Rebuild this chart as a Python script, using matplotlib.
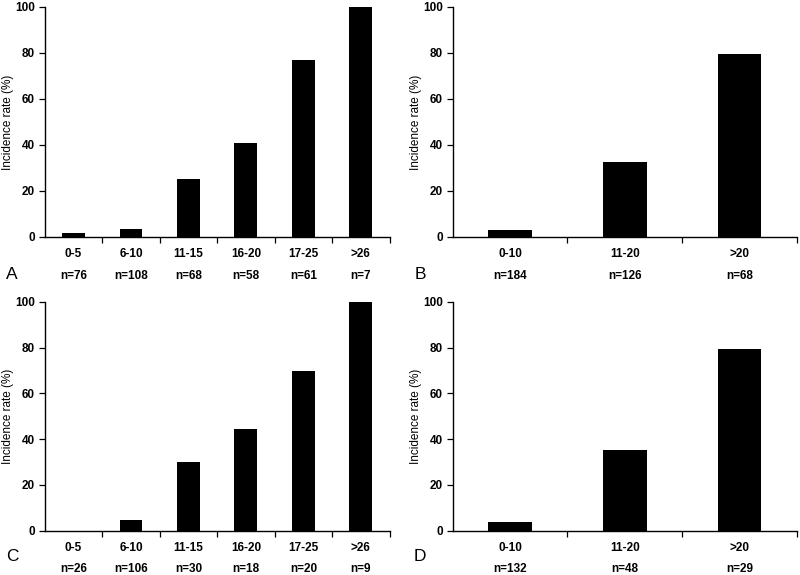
import matplotlib.pyplot as plt
import matplotlib.transforms as mtransforms

plt.rcParams['font.family'] = ['Liberation Sans', 'DejaVu Sans']

# Panel data
cats_a = ["0-5", "6-10", "11-15", "16-20", "17-25", ">26"]
rate_a = [1.5, 3.5, 25, 41, 77, 100]
n_a = ["n=76", "n=108", "n=68", "n=58", "n=61", "n=7"]

cats_b = ["0-10", "11-20", ">20"]
rate_b = [2.9, 32.6, 79.5]
n_b = ["n=184", "n=126", "n=68"]

cats_c = ["0-5", "6-10", "11-15", "16-20", "17-25", ">26"]
rate_c = [0, 4.7, 30, 44.5, 70, 100]
n_c = ["n=26", "n=106", "n=30", "n=18", "n=20", "n=9"]

cats_d = ["0-10", "11-20", ">20"]
rate_d = [3.6, 35.4, 79.3]
n_d = ["n=132", "n=48", "n=29"]

fig = plt.figure(figsize=(8, 5.75), dpi=100)

# axes rectangles in figure fractions (left, bottom, width, height)
rects = [
    (0.056, 0.588, 0.431, 0.400),
    (0.566, 0.588, 0.430, 0.400),
    (0.056, 0.077, 0.431, 0.398),
    (0.566, 0.077, 0.430, 0.398),
]
panels = [
    ("A", cats_a, rate_a, n_a, 0.40, -0.165),
    ("B", cats_b, rate_b, n_b, 0.38, -0.165),
    ("C", cats_c, rate_c, n_c, 0.40, -0.113),
    ("D", cats_d, rate_d, n_d, 0.38, -0.113),
]

for rect, (letter, cats, rates, ns, w, ly) in zip(rects, panels):
    ax = fig.add_axes(rect)
    x = list(range(len(cats)))
    ax.bar(x, rates, width=w, color="black", linewidth=0)
    ax.set_xlim(-0.5, len(cats) - 0.5)
    ax.set_ylim(0, 100)
    ax.set_yticks([0, 20, 40, 60, 80, 100])
    ax.set_xticks(x)
    ax.set_xticklabels(cats, fontsize=8.5, fontweight="bold")
    ax.set_xticks([i + 0.5 for i in range(len(cats))], minor=True)
    ax.tick_params(axis="x", which="major", length=0, pad=8)
    ax.tick_params(axis="x", which="minor", length=4, width=0.9, direction="out")
    ax.tick_params(axis="y", length=4, width=0.9, direction="out", pad=3, labelsize=8.5)
    for lab in ax.get_yticklabels():
        lab.set_fontweight("bold")
    for side in ("top", "right"):
        ax.spines[side].set_visible(False)
    for side in ("left", "bottom"):
        ax.spines[side].set_linewidth(1.0)
    ax.set_ylabel("Incidence rate (%)", fontsize=8.5)
    ax.yaxis.set_label_coords(-0.09, 0.5)

    trans = mtransforms.blended_transform_factory(ax.transData, ax.transAxes)
    for xi, lab in zip(x, ns):
        ax.text(xi, -0.168, lab, transform=trans, ha="center", va="center",
                fontsize=8.5, fontweight="bold")
    ax.text(-0.095, ly, letter, transform=ax.transAxes, ha="center",
            va="center", fontsize=12.5)

fig.savefig("out.png", dpi=100)
